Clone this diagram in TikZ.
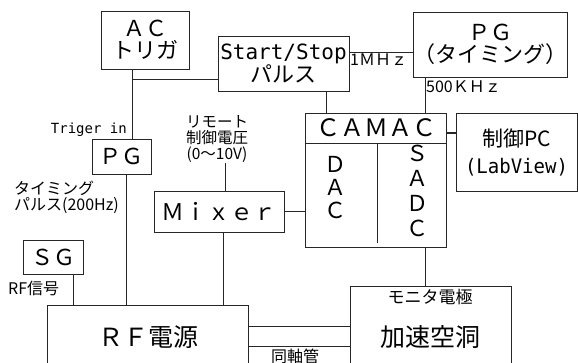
\documentclass[tikz,border=0pt]{standalone}
\usepackage{fontspec}
\setmainfont{Noto Sans CJK JP}
\newfontfamily\monof{DejaVu Sans Mono}
\newfontfamily\narrowmono[FakeStretch=0.95]{DejaVu Sans Mono}
\begin{document}
\begin{tikzpicture}[x=1pt,y=-1pt,
  box/.style={draw=black!85,line width=0.9pt,inner sep=0pt,align=center},
  lbl/.style={inner sep=0pt,align=center},
  wire/.style={draw=black!85,line width=0.9pt}]
\clip (0,0) rectangle (578,363);
\fill[white] (0,0) rectangle (578,363);
% boxes
\node[box,minimum width=88pt,minimum height=58pt,font=\fontsize{22}{22}\selectfont] (ac) at (145,40) {ＡＣ\\トリガ};
\node[box,minimum width=131pt,minimum height=55pt,font=\fontsize{22}{23}\selectfont] (ss) at (283.5,63.5) {{\monof\fontsize{21}{23}\selectfont Start/Stop}\\パルス};
\node[box,minimum width=154pt,minimum height=65pt,font=\fontsize{22}{22}\selectfont] (pgt) at (490,44.5) {ＰＧ\\（タイミング）};
\node[box,minimum width=141pt,minimum height=134pt] (camac) at (375.5,180) {};
\node[box,minimum width=121pt,minimum height=78pt,font=\fontsize{21}{27}\selectfont] (pc) at (516.5,152) {制御PC\\{\narrowmono\fontsize{20}{27}\selectfont (LabView)}};
\node[box,minimum width=130pt,minimum height=41pt,font=\fontsize{23}{23}\selectfont] (mixer) at (219,211.5) {Ｍｉｘｅｒ};
\node[box,minimum width=59pt,minimum height=35pt,font=\fontsize{22}{22}\selectfont] (pg) at (121.5,156.5) {ＰＧ};
\node[box,minimum width=60pt,minimum height=34pt,font=\fontsize{22}{22}\selectfont] (sg) at (53,257) {ＳＧ};
\node[box,minimum width=201pt,minimum height=75pt] (rf) at (147.5,342.5) {};
\node[box,minimum width=161pt,minimum height=94pt] (cav) at (430.5,333) {};
% texts inside
\node[lbl,font=\fontsize{24}{24}\selectfont] (camt) at (376,128) {ＣＡＭＡＣ};
\node[lbl,font=\fontsize{22}{23}\selectfont] (dac) at (335,188) {Ｄ\\Ａ\\Ｃ};
\node[lbl,font=\fontsize{22}{25}\selectfont] (sadc) at (417,191) {Ｓ\\Ａ\\Ｄ\\Ｃ};
\node[lbl,font=\fontsize{25}{25}\selectfont] (rft) at (148,337) {ＲＦ電源};
\node[lbl,font=\fontsize{17}{17}\selectfont] (mon) at (430,297) {モニタ電極};
\node[lbl,font=\fontsize{25}{25}\selectfont] (cavt) at (430,337) {加速空洞};
% outside labels
\node[lbl,anchor=west,font=\fontsize{16}{16}\selectfont] (l1m) at (350,60) {1ＭＨｚ};
\node[lbl,anchor=west,font=\fontsize{16}{16}\selectfont] (l500) at (426,87) {500ＫＨｚ};
\node[lbl,anchor=east,font=\monof\fontsize{14}{14}\selectfont] (trig) at (127,130) {Triger in};
\node[lbl,anchor=west,align=left,font=\fontsize{16}{16}\selectfont] (tpl) at (14,197) {タイミング\\パルス(200Hz)};
\node[lbl,font=\fontsize{15.5}{16}\selectfont] (rem) at (217,139) {リモート\\制御電圧\\(0〜10V)};
\node[lbl,anchor=west,font=\fontsize{16}{16}\selectfont] (rfs) at (8,288) {RF信号};
\node[lbl,font=\fontsize{16}{16}\selectfont] (coax) at (295,356) {同軸管};
% coordinates
\coordinate (xa) at (132,79);
\coordinate (xb) at (126,0);
\coordinate (xsg) at (73,0);
\coordinate (xmx) at (223,0);
\coordinate (xrm) at (225,163);
\coordinate (xss) at (326,0);
\coordinate (xpg) at (425,0);
\coordinate (y52) at (0,52);
\coordinate (ypc) at (0,133);
\coordinate (yc1) at (0,326);
\coordinate (yc2) at (0,346);
% camac dividers
\draw[wire] (camac.west |- 0,143) -- (camac.east |- 0,143);
\draw[wire] (377,143) -- (377,243);
% connectors
\draw[wire] (xa |- ac.south) -- (xa |- pg.north);
\draw[wire] (xa) -- (xa -| ss.west);
\draw[wire] (xb |- pg.south) -- (xb |- rf.north);
\draw[wire] (xsg |- sg.south) -- (xsg |- rf.north);
\draw[wire] (xmx |- mixer.south) -- (xmx |- rf.north);
\draw[wire] (xrm) -- (xrm |- mixer.north);
\draw[wire] (mixer.east) -- (mixer.east -| camac.west);
\draw[wire] (y52 -| ss.east) -- (y52 -| pgt.west);
\draw[wire] (xss |- ss.south) -- (xss |- camac.north);
\draw[wire] (xpg |- pgt.south) -- (xpg |- camac.north);
\draw[wire,line width=2.2pt] (ypc -| camac.east) -- (ypc -| pc.west);
\draw[wire] (xpg |- camac.south) -- (xpg |- cav.north);
\draw[wire] (yc1 -| rf.east) -- (yc1 -| cav.west);
\draw[wire] (yc2 -| rf.east) -- (yc2 -| cav.west);
\end{tikzpicture}
\end{document}
